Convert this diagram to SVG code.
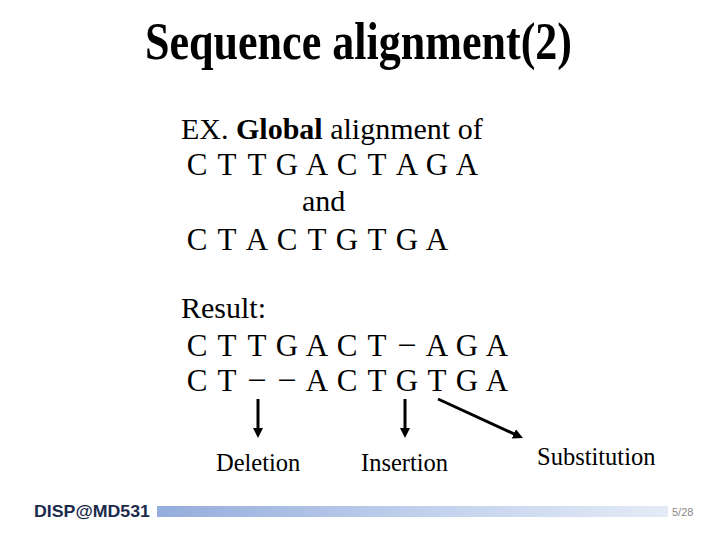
<svg xmlns="http://www.w3.org/2000/svg" width="720" height="540" viewBox="0 0 720 540">
<defs>
<style>
.serif{font-family:"Liberation Serif","Times New Roman",serif;fill:#000}
.body{font-size:30px}
.seq{font-size:31px;text-anchor:middle}
.lbl{font-size:24.5px}
.arr{stroke:#000;stroke-width:3;fill:none}
</style>
<marker id="ah" markerUnits="userSpaceOnUse" viewBox="0 0 10 10" markerWidth="10" markerHeight="10" refX="2" refY="5" orient="auto">
<path d="M0,0 L10,5 L0,10 z" fill="#000"/>
</marker>
<linearGradient id="bar" x1="0" y1="0" x2="1" y2="0">
<stop offset="0" stop-color="#95ADDC"/>
<stop offset="0.5" stop-color="#BFCFEC"/>
<stop offset="1" stop-color="#E4EBF6"/>
</linearGradient>
</defs>
<rect width="720" height="540" fill="#fff"/>
<g id="title">
<text class="serif" x="145" y="59" font-size="53" font-weight="bold" textLength="427" lengthAdjust="spacingAndGlyphs">Sequence alignment(2)</text>
</g>
<g id="example">
<text class="serif body" x="181" y="139">EX. <tspan font-weight="bold">Global</tspan> alignment of</text>
<text class="serif seq" x="197 227 257 287 317 347 377 407 437 467" y="175">CTTGACTAGA</text>
<text class="serif body" x="302" y="211">and</text>
<text class="serif seq" x="197 227 257 287 317 347 377 407 437" y="250">CTACTGTGA</text>
</g>
<g id="result">
<text class="serif body" x="181" y="318">Result:</text>
<text class="serif seq" x="197 227 257 287 317 347 377 407 437 467 497" y="356 356 356 356 356 356 356 353 356 356 356">CTTGACT–AGA</text>
<text class="serif seq" x="197 227 257 287 317 347 377 407 437 467 497" y="391 391 388 388 391 391 391 391 391 391 391">CT––ACTGTGA</text>
</g>
<g id="connectors">
<path class="arr" d="M258,399 L258,430" marker-end="url(#ah)"/>
<path class="arr" d="M405,399 L405,430" marker-end="url(#ah)"/>
<path class="arr" d="M438,399 L515.7,434.7" marker-end="url(#ah)"/>
</g>
<g id="deletion"><text class="serif lbl" x="216" y="471">Deletion</text></g>
<g id="insertion"><text class="serif lbl" x="361" y="471">Insertion</text></g>
<g id="substitution"><text class="serif lbl" x="537" y="465">Substitution</text></g>
<g id="footer">
<text x="34" y="517" font-family="Liberation Sans, Arial, sans-serif" font-weight="bold" font-size="17" fill="#1B2B4B" textLength="116" lengthAdjust="spacingAndGlyphs">DISP@MD531</text>
<rect x="157" y="506" width="511" height="11" fill="url(#bar)"/>
<text x="672" y="516" font-family="Liberation Sans, Arial, sans-serif" font-size="11" fill="#8A8A8A">5/28</text>
</g>
</svg>
